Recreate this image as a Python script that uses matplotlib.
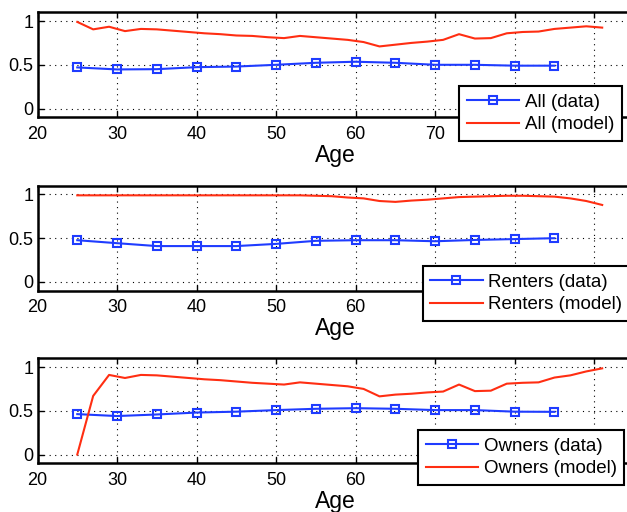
import matplotlib
matplotlib.use("Agg")
import matplotlib.pyplot as plt

plt.rcParams['font.family'] = ['Liberation Sans', 'DejaVu Sans']

# edades de los datos (cada 5 años) y del modelo (cada 2 años)
edades_data = [25, 30, 35, 40, 45, 50, 55, 60, 65, 70, 75, 80, 85]
edades_modelo = list(range(25, 92, 2))

all_data = [0.47, 0.447, 0.45, 0.473, 0.48, 0.50, 0.523, 0.535, 0.523, 0.50, 0.50, 0.49, 0.49]
all_modelo = [0.99, 0.905, 0.935, 0.885, 0.91, 0.905, 0.89, 0.875, 0.86, 0.85, 0.835, 0.83,
              0.815, 0.805, 0.83, 0.815, 0.80, 0.785, 0.76, 0.71, 0.73, 0.75, 0.765, 0.785,
              0.85, 0.80, 0.805, 0.86, 0.875, 0.88, 0.91, 0.925, 0.94, 0.925]

renters_data = [0.477, 0.443, 0.41, 0.41, 0.41, 0.435, 0.47, 0.477, 0.477, 0.465, 0.48, 0.49, 0.50]
renters_modelo = [0.99, 0.99, 0.99, 0.99, 0.99, 0.99, 0.99, 0.99, 0.99, 0.99, 0.99, 0.99,
                  0.99, 0.99, 0.99, 0.985, 0.98, 0.965, 0.955, 0.925, 0.915, 0.93, 0.94, 0.955,
                  0.97, 0.975, 0.98, 0.985, 0.985, 0.98, 0.975, 0.955, 0.925, 0.88]

owners_data = [0.462, 0.44, 0.458, 0.48, 0.49, 0.508, 0.523, 0.53, 0.523, 0.508, 0.508, 0.49, 0.488]
owners_modelo = [0.0, 0.67, 0.91, 0.875, 0.91, 0.905, 0.89, 0.875, 0.86, 0.85, 0.835, 0.82,
                 0.81, 0.80, 0.825, 0.81, 0.795, 0.78, 0.75, 0.665, 0.685, 0.695, 0.71, 0.72,
                 0.80, 0.725, 0.73, 0.81, 0.82, 0.825, 0.88, 0.905, 0.95, 0.985]

paneles = [
    ("All", all_data, all_modelo),
    ("Renters", renters_data, renters_modelo),
    ("Owners", owners_data, owners_modelo),
]

azul = "#1f3cff"
rojo = "#ff2e12"

fig = plt.figure(figsize=(6.27, 5.12), dpi=100)

alto = 105 / 512
ancho = 596.5 / 627
izq = 37.5 / 627
bases = [1 - 117.3 / 512, 1 - 290.7 / 512, 1 - 463.3 / 512]
legend_pos = [(459 / 627, 1 - 86 / 512), (422.7 / 627, 1 - 266 / 512), (418 / 627, 1 - 430 / 512)]

for i, (nombre, datos, modelo) in enumerate(paneles):
    ax = fig.add_axes([izq, bases[i], ancho, alto])
    ax.plot(edades_data, datos, color=azul, marker="s", markersize=6, markerfacecolor="none",
            markeredgewidth=1.5, linewidth=1.5, label=f"{nombre} (data)")
    ax.plot(edades_modelo, modelo, color=rojo, linewidth=1.5, label=f"{nombre} (model)")
    ax.set_xlim(20, 95)
    ax.set_ylim(-0.1, 1.1)
    ax.set_xticks(range(20, 100, 10))
    ax.set_yticks([0, 0.5, 1])
    ax.set_yticklabels(["0", "0.5", "1"])
    ax.grid(True, color="black", linestyle=(0, (1, 4)), linewidth=0.8)
    ax.tick_params(direction="in", top=True, right=True, length=4, width=1,
                   labelsize=13)
    ax.tick_params(axis="x", pad=6)
    ax.tick_params(axis="y", pad=3)
    for s in ax.spines.values():
        s.set_linewidth(1.8)
        s.set_color("black")
    ax.set_xlabel("Age", fontsize=16.5, labelpad=1)
    leg = ax.legend(loc="upper left", bbox_to_anchor=legend_pos[i],
                    bbox_transform=fig.transFigure, fontsize=13.5, fancybox=False,
                    framealpha=1, edgecolor="black", borderaxespad=0,
                    handlelength=2.8, handletextpad=0.3, labelspacing=0.3,
                    borderpad=0.4)
    leg.get_frame().set_linewidth(1.5)
    leg.set_zorder(10)

fig.savefig("out.png", dpi=100)
